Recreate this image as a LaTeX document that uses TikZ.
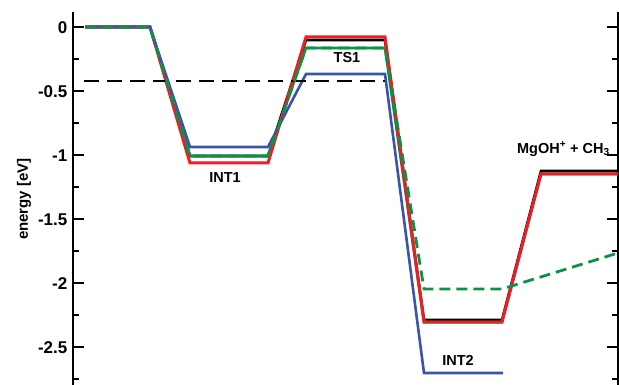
\documentclass[tikz,border=0pt]{standalone}
\usepackage{fontspec}
\setmainfont{Liberation Sans}
\definecolor{cred}{RGB}{236,30,36}
\definecolor{cblue}{RGB}{58,84,168}
\definecolor{cgreen}{RGB}{10,146,70}
\begin{document}
\begin{tikzpicture}[x=1pt,y=-1pt,
  axisline/.style={line width=2.4pt,black},
  tickline/.style={line width=2.2pt,black},
  lvl/.style={line width=2.6pt,line join=miter,miter limit=4},
  ticklab/.style={anchor=east,inner sep=0pt,font=\fontsize{17}{19}\selectfont\bfseries},
  statelab/.style={inner sep=0pt,font=\fontsize{14.5}{16}\selectfont\bfseries},
  blackdash/.style={line width=2.4pt,black,dash pattern=on 15pt off 8pt},
  greendash/.style={line width=2.8pt,cgreen,dash pattern=on 11pt off 6pt}]
\useasboundingbox (0,0) rectangle (619,385);
% axes
\draw[axisline] (73,12) -- (73,385);
\draw[axisline] (618,12) -- (618,385);
\foreach \k in {0,...,11}{
  \pgfmathsetmacro\yy{27+32*\k}
  \ifodd\k
    \draw[tickline] (73,\yy) -- (79,\yy);
    \draw[tickline] (618,\yy) -- (612,\yy);
  \else
    \draw[tickline] (73,\yy) -- (84,\yy);
    \draw[tickline] (618,\yy) -- (607,\yy);
  \fi
}
\node[ticklab] (t0) at (67.5,27.5) {0};
\node[ticklab] (t1) at (67.5,91.5) {-0.5};
\node[ticklab] (t2) at (67.5,155.5) {-1};
\node[ticklab] (t3) at (67.5,219.5) {-1.5};
\node[ticklab] (t4) at (67.5,283.5) {-2};
\node[ticklab] (t5) at (67.5,347.5) {-2.5};
\node[rotate=90,inner sep=0pt,font=\fontsize{15}{17}\selectfont\bfseries] (ylab) at (24,199) {energy [eV]};
% energy profiles
\draw[lvl,black] (85,27)--(150,27)--(190,156)--(268,156)--(306,40)--(385,40)--(424,320)--(502,320)--(541,171)--(618,171);
\draw[lvl,cgreen] (85,27)--(150,27)--(190,156)--(268,156)--(306,48)--(385,48)--(424,322)--(502,322)--(541,174)--(618,174);
\draw[lvl,cred,line width=3pt] (85,27)--(150,27)--(190,163)--(268,163)--(306,37)--(385,37)--(424,322)--(502,322)--(541,174)--(618,174);
\draw[lvl,cblue] (85,27)--(150,27)--(190,147)--(268,147)--(306,74)--(385,74)--(424,373)--(503,373);
\draw[blackdash] (84,81) -- (385,81);
\draw[greendash,line join=miter] (85,27)--(150,27)--(190,156)--(268,156)--(306,48)--(385,48)--(424,289)--(502,289)--(618,253);
% labels
\node[statelab] (int1) at (225,178) {INT1};
\node[statelab] (ts1) at (347,58) {TS1};
\node[statelab] (int2) at (458,360) {INT2};
\node[statelab,anchor=east] (prod) at (610,149) {MgOH\textsuperscript{+} + CH\textsubscript{3}};
\end{tikzpicture}
\end{document}
